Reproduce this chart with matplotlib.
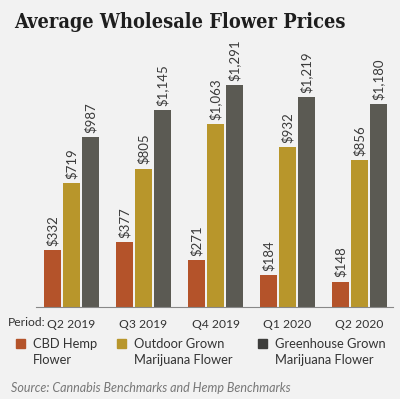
import matplotlib
matplotlib.use('Agg')
import matplotlib.pyplot as plt
from matplotlib.patches import Rectangle
import numpy as np

# data
periods = ['Q2 2019', 'Q3 2019', 'Q4 2019', 'Q1 2020', 'Q2 2020']
cbd_hemp = [332, 377, 271, 184, 148]
outdoor = [719, 805, 1063, 932, 856]
greenhouse = [987, 1145, 1291, 1219, 1180]
series_names = ['CBD Hemp\nFlower', 'Outdoor Grown\nMarijuana Flower',
                'Greenhouse Grown\nMarijuana Flower']

colors = ['#b4532a', '#b8962b', '#5b5a53']
legend_colors = ['#b4532a', '#b8962b', '#3d3d3b']
bg = '#f2f2f2'
txt = '#333333'

W, H = 400, 399
fig = plt.figure(figsize=(W / 100, H / 100), dpi=100, facecolor=bg)

# axes placed in pixel coords of the reference
left, right, top, bottom = 36, 393, 60, 307
ax = fig.add_axes([left / W, 1 - bottom / H, (right - left) / W, (bottom - top) / H])
ax.set_facecolor(bg)

x = np.arange(len(periods))
bw = 0.236
step = 0.264
for i, vals in enumerate([cbd_hemp, outdoor, greenhouse]):
    bars = ax.bar(x + (i - 1) * step, vals, width=bw, color=colors[i], linewidth=0)
    ax.bar_label(bars, labels=[f'${v:,}' for v in vals], rotation=90, padding=3,
                 fontsize=9.5, color='#3a3a3a', family='Lato')

ax.set_xlim(-0.493, 4.465)
ax.set_ylim(0, 1436)
for s in ['top', 'right', 'left']:
    ax.spines[s].set_visible(False)
ax.spines['bottom'].set_color('#888888')
ax.spines['bottom'].set_linewidth(0.8)
ax.set_yticks([])
ax.set_xticks(x)
ax.set_xticklabels(periods, fontsize=8.7, color=txt, family='Lato')
ax.tick_params(axis='x', length=0, pad=9)

fig.text(14 / W, 1 - 22 / H, 'Average Wholesale Flower Prices', fontsize=14.3,
         fontweight='heavy', family='DejaVu Serif', fontstretch='condensed',
         color='#1e1e1e', va='center')
fig.text(8 / W, 1 - 323 / H, 'Period:', fontsize=8.7, color=txt, family='Lato',
         va='center')

# legend drawn by hand to match the column positions
sq_x = [16, 117, 258]
for i, name in enumerate(series_names):
    fig.patches.append(Rectangle((sq_x[i] / W, 1 - 348 / H), 9 / W, 9 / H,
                                 transform=fig.transFigure, color=legend_colors[i]))
    fig.text((sq_x[i] + 17) / W, 1 - 338 / H, name, fontsize=9.3, color=txt,
             family='Lato', va='top', linespacing=1.35)

fig.text(11 / W, 1 - 388 / H, 'Source: Cannabis Benchmarks and Hemp Benchmarks',
         fontsize=9, style='italic', color='#777777', family='Lato', va='center')

fig.savefig('out.png', dpi=100, facecolor=bg)
